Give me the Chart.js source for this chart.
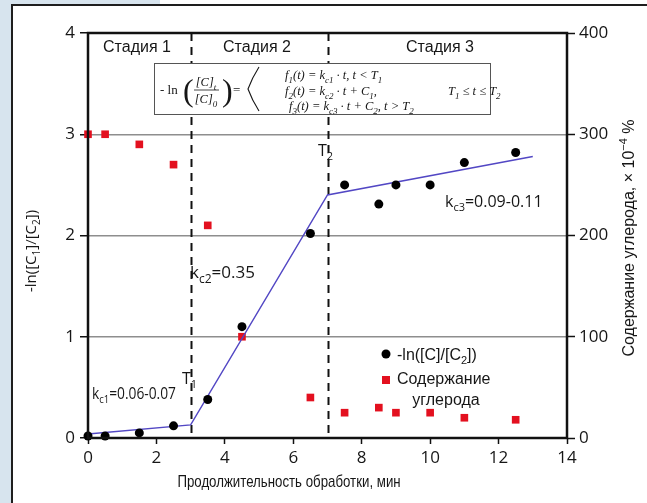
<!DOCTYPE html>
<html>
<head>
<meta charset="utf-8">
<script src="https://cdn.jsdelivr.net/npm/chart.js@4.4.0/dist/chart.umd.min.js"></script>
<style>
  html, body { margin: 0; padding: 0; background: #fff; }
  #wrap { position: relative; width: 647px; height: 503px; overflow: hidden; background: #fff; }
  .strip { position: absolute; background: #d7e4ee; }
  .rule { position: absolute; background: #1e1e1e; }
  canvas { position: absolute; left: 0; top: 0; }
</style>
</head>
<body>
<div id="wrap">
  <div class="strip" style="left:0;top:0;width:11px;height:503px"></div>
  <div class="strip" style="left:0;top:0;width:160px;height:4px"></div>
  <div class="rule" style="left:11px;top:4px;width:2px;height:499px"></div>
  <div class="rule" style="left:11px;top:4px;width:636px;height:2px"></div>
  <canvas id="chart" width="647" height="503"></canvas>
</div>
<script>
// данные
const lnTime = [0, 0.5, 1.5, 2.5, 3.5, 4.5, 6.5, 7.5, 8.5, 9, 10, 11, 12.5];
const lnValues = [0.02, 0.02, 0.05, 0.12, 0.38, 1.1, 2.02, 2.5, 2.31, 2.5, 2.5, 2.72, 2.82];

const carbonTime = [0, 0.5, 1.5, 2.5, 3.5, 4.5, 6.5, 7.5, 8.5, 9, 10, 11, 12.5];
const carbonValues = [300, 300, 290, 270, 210, 100, 40, 25, 30, 25, 25, 20, 18];

// кусочно-линейная аппроксимация
const fitTime = [0, 3, 7, 13];
const fitValues = [0.04, 0.13, 2.4, 2.78];

// границы стадий T1, T2
const stageBounds = [3, 7];
const stageNames = ["Стадия 1", "Стадия 2", "Стадия 3"];

const xTicks = [0, 2, 4, 6, 8, 10, 12, 14];
const lnTicks = [0, 1, 2, 3, 4];
const carbonTicks = [0, 100, 200, 300, 400];

const SANS = '"Liberation Sans", Arial, sans-serif';
const OPEN = '"Open Sans", "DejaVu Sans", sans-serif';
const SERIF = '"Liberation Serif", "DejaVu Serif", serif';
const INK = "#161616";

const toPoints = (xs, ys) => xs.map((x, i) => ({ x: x, y: ys[i] }));
const useTicks = (list) => (scale) => { scale.ticks = list.map(v => ({ value: v })); };

// текст с индексами: сегменты "str" или ["str", "sub"|"sup"]
function rich(ctx, x, y, segs, o) {
  const size = o.size;
  const small = Math.round(size * 0.68);
  const it = o.italic ? "italic " : "";
  const parts = segs.map(s => Array.isArray(s) ? { t: s[0], m: s[1] } : { t: s, m: "" });
  let w = 0;
  parts.forEach(p => {
    ctx.font = it + (p.m ? small : size) + "px " + o.font;
    p.w = ctx.measureText(p.t).width;
    w += p.w;
  });
  ctx.save();
  ctx.translate(x, y);
  if (o.rot) ctx.rotate(o.rot);
  ctx.scale(o.sx || 1, 1);
  let cx = o.align === "center" ? -w / 2 : o.align === "right" ? -w : 0;
  ctx.fillStyle = o.color || INK;
  ctx.textAlign = "left";
  ctx.textBaseline = "alphabetic";
  parts.forEach(p => {
    ctx.font = it + (p.m ? small : size) + "px " + o.font;
    const dy = p.m === "sub" ? size * 0.28 : p.m === "sup" ? -size * 0.42 : 0;
    ctx.fillText(p.t, cx, dy);
    cx += p.w;
  });
  ctx.restore();
}

const decor = {
  id: "decor",
  beforeDatasetsDraw(chart) {
    const { ctx, chartArea: a, scales } = chart;
    ctx.save();
    ctx.strokeStyle = "#111";
    ctx.lineWidth = 2;
    ctx.setLineDash([8, 6]);
    stageBounds.forEach(t => {
      const px = Math.round(scales.x.getPixelForValue(t)) + 0.5;
      ctx.beginPath();
      ctx.moveTo(px, a.top);
      ctx.lineTo(px, a.bottom);
      ctx.stroke();
    });
    ctx.restore();
  },
  afterDatasetsDraw(chart) {
    const { ctx, chartArea: a } = chart;
    ctx.save();
    // рамка области построения
    ctx.strokeStyle = "#111";
    ctx.lineWidth = 2.5;
    ctx.strokeRect(a.left, a.top, a.right - a.left, a.bottom - a.top);

    // стадии
    const stageX = [137, 257, 440];
    stageNames.forEach((s, i) => rich(ctx, stageX[i], 52, [s], { size: 16, font: SANS, align: "center" }));

    // блок с формулой
    ctx.fillStyle = "#fff";
    ctx.fillRect(154, 63, 336, 51);
    ctx.strokeStyle = "#555";
    ctx.lineWidth = 1;
    ctx.strokeRect(154.5, 63.5, 336, 51);
    const f = { size: 13, font: SERIF };
    const fi = { size: 12.5, font: SERIF, italic: true };
    rich(ctx, 160, 94, ["- ln"], f);
    ctx.font = "32px " + SERIF;
    ctx.fillStyle = INK;
    ctx.fillText("(", 183, 101);
    ctx.fillText(")", 222, 101);
    rich(ctx, 206, 86, ["[C]", ["t", "sub"]], Object.assign({ align: "center" }, fi));
    rich(ctx, 206, 103, ["[C]", ["0", "sub"]], Object.assign({ align: "center" }, fi));
    ctx.strokeStyle = INK;
    ctx.lineWidth = 0.8;
    ctx.beginPath(); ctx.moveTo(194, 90); ctx.lineTo(219, 90); ctx.stroke();
    rich(ctx, 233, 94, ["="], f);
    ctx.lineWidth = 1.1;
    ctx.beginPath();
    ctx.moveTo(259, 67);
    ctx.quadraticCurveTo(252, 78, 248, 89);
    ctx.quadraticCurveTo(252, 100, 259, 111);
    ctx.stroke();
    rich(ctx, 285, 79, ["f", ["1", "sub"], "(t) = k", ["c1", "sub"], " · t, t < T", ["1", "sub"]], fi);
    rich(ctx, 285, 95, ["f", ["2", "sub"], "(t) = k", ["c2", "sub"], " · t + C", ["1", "sub"], ","], fi);
    rich(ctx, 448, 95, ["T", ["1", "sub"], " ≤ t ≤ T", ["2", "sub"]], fi);
    rich(ctx, 289, 110, ["f", ["3", "sub"], "(t) = k", ["c3", "sub"], " · t + C", ["2", "sub"], ", t > T", ["2", "sub"]], fi);

    // подписи точек излома и наклонов
    const lab = { size: 16, font: OPEN };
    rich(ctx, 182, 384, ["T", ["1", "sub"]], lab);
    rich(ctx, 318, 156, ["T", ["2", "sub"]], lab);
    rich(ctx, 92, 399, ["k", ["c1", "sub"], "=0.06-0.07"], Object.assign({ sx: 0.86 }, lab));
    rich(ctx, 190, 278, ["k", ["c2", "sub"], "=0.35"], { size: 17, font: OPEN });
    rich(ctx, 445, 207, ["k", ["c3", "sub"], "=0.09-0.11"], lab);

    // легенда
    ctx.fillStyle = "#000";
    ctx.beginPath(); ctx.arc(386, 354, 4.5, 0, Math.PI * 2); ctx.fill();
    ctx.fillStyle = "#e3101f";
    ctx.fillRect(382, 376, 8, 8);
    const lg = { size: 16, font: SANS };
    rich(ctx, 397, 360, ["-ln([C]/[C", ["2", "sub"], "])"], lg);
    rich(ctx, 397, 384, ["Содержание"], lg);
    rich(ctx, 446, 405, ["углерода"], Object.assign({ align: "center" }, lg));
    ctx.restore();
  },
  afterDraw(chart) {
    const { ctx } = chart;
    rich(ctx, 36, 251, ["-ln([C", ["1", "sub"], "]/[C", ["2", "sub"], "])"], { size: 15, font: OPEN, align: "center", rot: -Math.PI / 2 });
    rich(ctx, 634, 238, ["Содержание углерода, ", "× 10", ["−4", "sup"], " %"], { size: 16, font: SANS, align: "center", rot: -Math.PI / 2 });
    rich(ctx, 289, 487, ["Продолжительность обработки, мин"], { size: 17, font: SANS, align: "center", sx: 0.78 });
  }
};

const tickFont = { family: OPEN, size: 17 };

new Chart(document.getElementById("chart"), {
  type: "scatter",
  data: {
    datasets: [
      {
        label: "-ln([C]/[C2])",
        data: toPoints(lnTime, lnValues),
        yAxisID: "y",
        pointStyle: "circle",
        pointRadius: 4.5,
        backgroundColor: "#000",
        borderColor: "#000",
        borderWidth: 0,
        clip: false,
      },
      {
        label: "fit",
        type: "line",
        data: toPoints(fitTime, fitValues),
        yAxisID: "y",
        borderColor: "#5247c4",
        borderWidth: 1.4,
        pointRadius: 0,
        fill: false,
      },
      {
        label: "Содержание углерода",
        data: toPoints(carbonTime, carbonValues),
        yAxisID: "y2",
        pointStyle: "rect",
        pointRadius: 5.4,
        backgroundColor: "#e3101f",
        borderColor: "#e3101f",
        borderWidth: 0,
        clip: false,
      },
    ],
  },
  options: {
    responsive: false,
    animation: false,
    layout: { padding: { left: 12, right: 0, top: 33, bottom: 0 } },
    plugins: { legend: { display: false }, tooltip: { enabled: false } },
    scales: {
      x: {
        type: "linear", min: 0, max: 14,
        afterBuildTicks: useTicks(xTicks),
        ticks: { font: tickFont, color: INK, padding: 4, maxRotation: 0 },
        grid: { drawOnChartArea: false, tickLength: 6, tickColor: "#111", tickWidth: 1.5 },
        border: { display: false },
        afterFit: (s) => { s.height = 65; },
      },
      y: {
        position: "left", min: 0, max: 4,
        afterBuildTicks: useTicks(lnTicks),
        ticks: { font: tickFont, color: INK, padding: 5 },
        grid: {
          color: (c) => (c.tick && c.tick.value > 0 && c.tick.value < 4) ? "#8e8e8e" : "rgba(0,0,0,0)",
          lineWidth: 1.5, tickLength: 8, tickColor: "#111", tickWidth: 1.5,
        },
        border: { display: false },
        afterFit: (s) => { s.width = 76; },
      },
      y2: {
        position: "right", min: 0, max: 400,
        afterBuildTicks: useTicks(carbonTicks),
        ticks: { font: tickFont, color: INK, padding: 4 },
        grid: { drawOnChartArea: false, tickLength: 8, tickColor: "#111", tickWidth: 1.5 },
        border: { display: false },
        afterFit: (s) => { s.width = 80; },
      },
    },
  },
  plugins: [decor],
});
</script>
</body>
</html>
